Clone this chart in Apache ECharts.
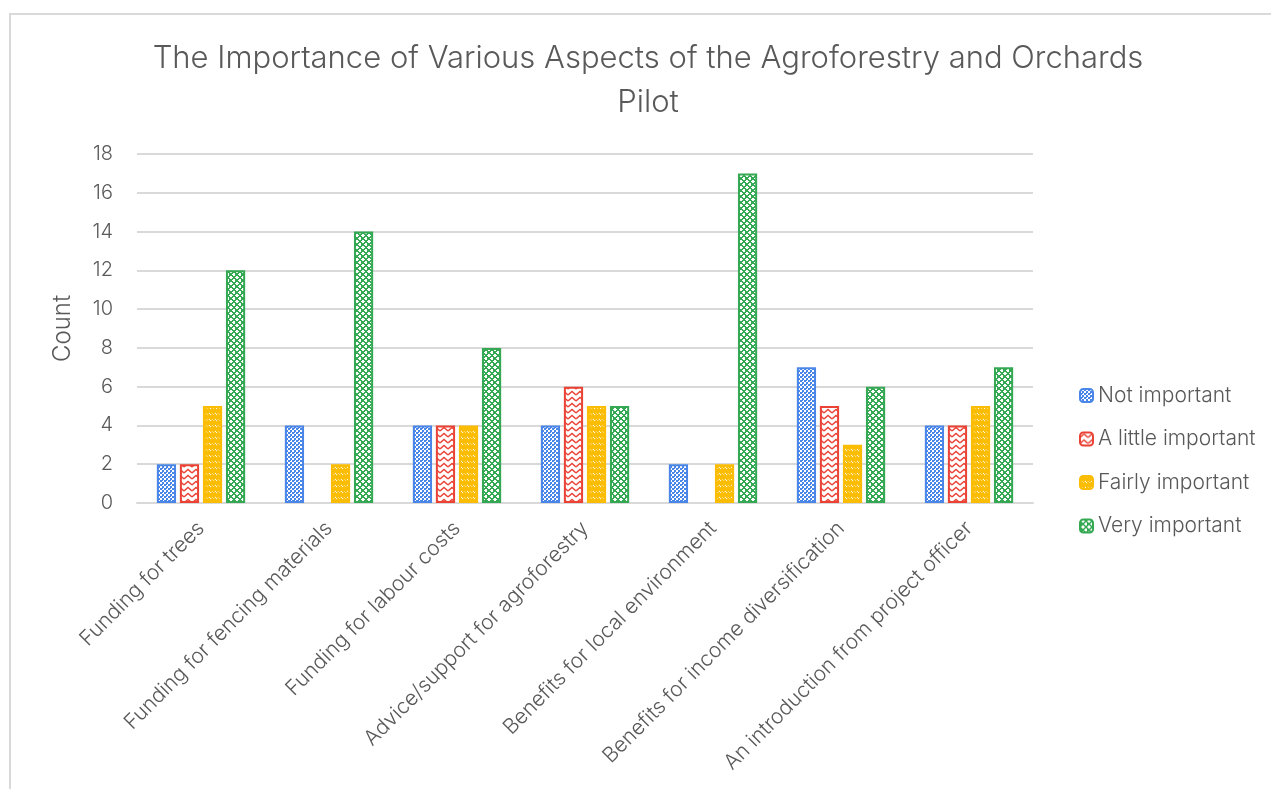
<!DOCTYPE html>
<html>
<head>
<meta charset="utf-8">
<script src="https://cdn.jsdelivr.net/npm/echarts@6/dist/echarts.min.js"></script>
<style>
  html, body { margin: 0; padding: 0; background: #fff; }
  #main { width: 1271px; height: 789px; }
</style>
</head>
<body>
<div id="main"></div>
<script>
var categories = [
  'Funding for trees',
  'Funding for fencing materials',
  'Funding for labour costs',
  'Advice/support for agroforestry',
  'Benefits for local environment',
  'Benefits for income diversification',
  'An introduction from project officer'
];
var notImportant = [2, 4, 4, 4, 2, 7, 4];
var littleImportant = [2, 0, 4, 6, 0, 5, 4];
var fairlyImportant = [5, 2, 4, 5, 2, 3, 5];
var veryImportant = [12, 14, 8, 5, 17, 6, 7];
var yTicks = [0, 18, 2]; // min, max, interval

var font = 'Inter';
var textColor = '#595959';
var lineColor = '#d9d9d9';

function tile(w, h, draw) {
  var c = document.createElement('canvas');
  c.width = w; c.height = h;
  var ctx = c.getContext('2d');
  ctx.fillStyle = '#fff';
  ctx.fillRect(0, 0, w, h);
  draw(ctx);
  return { image: c, repeat: 'repeat' };
}

// small checker (blue)
var bluePat = tile(4, 4, function (ctx) {
  ctx.fillStyle = '#4a86e8';
  ctx.fillRect(0, 0, 2, 2);
  ctx.fillRect(2, 2, 2, 2);
  ctx.fillRect(1, 0, 2, 1);
});
// zigzag chevrons (red)
var redPat = tile(8, 6, function (ctx) {
  ctx.strokeStyle = '#ea4335';
  ctx.lineWidth = 1.4;
  ctx.beginPath();
  ctx.moveTo(0, 5); ctx.lineTo(4, 1.5); ctx.lineTo(8, 5);
  ctx.stroke();
});
// wide diagonal stripes (yellow)
var yellowPat = tile(6, 6, function (ctx) {
  ctx.strokeStyle = '#fbbc04';
  ctx.lineWidth = 2.2;
  ctx.beginPath();
  ctx.moveTo(-3, 6); ctx.lineTo(3, 0);
  ctx.moveTo(0, 6); ctx.lineTo(6, 0);
  ctx.moveTo(3, 6); ctx.lineTo(9, 0);
  ctx.stroke();
});
// trellis (green)
var greenPat = tile(6, 6, function (ctx) {
  ctx.fillStyle = '#34a853';
  ctx.fillRect(0, 0, 6, 6);
  ctx.fillStyle = '#fff';
  ctx.fillRect(2, 0, 2, 1);
  ctx.fillRect(1, 1, 4, 1);
  ctx.fillRect(2, 2, 2, 1);
  ctx.fillRect(5, 3, 1, 1);
  ctx.fillRect(0, 3, 1, 1);
  ctx.fillRect(4, 4, 2, 1);
  ctx.fillRect(0, 4, 1, 1);
  ctx.fillRect(5, 5, 1, 1);
  ctx.fillRect(0, 5, 1, 1);
});

function bar(name, data, pat, border) {
  return {
    name: name,
    type: 'bar',
    // a zero count draws no bar at all
    data: data.map(function (v) { return v === 0 ? '-' : v; }),
    barGap: '20%',
    barCategoryGap: '31%',
    itemStyle: { color: pat, borderColor: border, borderWidth: 2 }
  };
}

var chart = echarts.init(document.getElementById('main'));
chart.setOption({
  animation: false,
  backgroundColor: '#fff',
  textStyle: { fontFamily: font },
  graphic: [{
    type: 'rect',
    shape: { x: 10, y: 14, width: 1400, height: 900 },
    style: { fill: 'none', stroke: lineColor, lineWidth: 2 },
    silent: true
  }],
  title: {
    text: 'The Importance of Various Aspects of the Agroforestry and Orchards\nPilot',
    left: 643,
    top: 32,
    textAlign: 'center',
    textStyle: {
      fontFamily: font, fontWeight: 300, fontSize: 31,
      color: textColor, lineHeight: 44
    }
  },
  legend: {
    orient: 'vertical',
    left: 1074,
    top: 380,
    itemWidth: 13,
    itemHeight: 13,
    itemGap: 22.5,
    textStyle: { fontFamily: font, fontWeight: 300, fontSize: 21, color: textColor }
  },
  grid: { left: 137, right: 238, top: 154, bottom: 286 },
  xAxis: {
    type: 'category',
    data: categories,
    axisLine: { lineStyle: { color: lineColor, width: 2 } },
    axisTick: { show: false },
    axisLabel: {
      rotate: 45, interval: 0, margin: 22,
      fontFamily: font, fontWeight: 300, fontSize: 21, color: textColor
    }
  },
  yAxis: {
    type: 'value',
    min: yTicks[0], max: yTicks[1], interval: yTicks[2],
    name: 'Count',
    nameLocation: 'middle',
    nameGap: 62,
    nameTextStyle: { fontFamily: font, fontWeight: 300, fontSize: 24, color: textColor },
    axisLine: { show: false },
    axisTick: { show: false },
    splitLine: { lineStyle: { color: lineColor, width: 2 } },
    axisLabel: { margin: 24, fontFamily: font, fontWeight: 300, fontSize: 20, color: textColor }
  },
  series: [
    bar('Not important', notImportant, bluePat, '#4a86e8'),
    bar('A little important', littleImportant, redPat, '#ea4335'),
    bar('Fairly important', fairlyImportant, yellowPat, '#fbbc04'),
    bar('Very important', veryImportant, greenPat, '#34a853')
  ]
});
</script>
</body>
</html>
